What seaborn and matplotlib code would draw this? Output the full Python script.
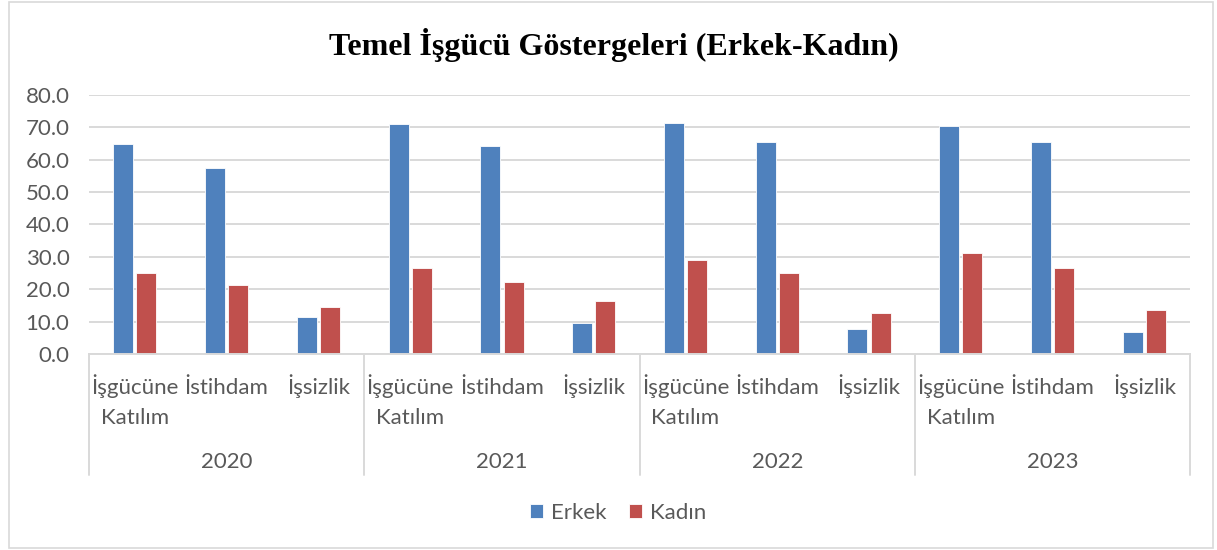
import numpy as np
import pandas as pd
import matplotlib
matplotlib.use("Agg")
import matplotlib.pyplot as plt
import matplotlib.transforms as mtransforms
from matplotlib.patches import Rectangle
import seaborn as sns

# data
years = ['2020', '2021', '2022', '2023']
indicators = ['İşgücüne\nKatılım', 'İstihdam', 'İşsizlik']
erkek = [65.0, 57.3, 11.5, 71.1, 64.1, 9.5, 71.3, 65.6, 7.6, 70.5, 65.5, 6.8]
kadin = [25.1, 21.2, 14.5, 26.5, 22.2, 16.3, 28.9, 25.1, 12.8, 31.1, 26.7, 13.6]
series = ['Erkek', 'Kadın']
colors = ['#4F81BD', '#C0504D']

sns.set_style("white")
plt.rcParams['font.family'] = ['Lato', 'DejaVu Sans']

# long format, one category key per (year, indicator)
keys = [f"{y}|{ind}" for y in years for ind in indicators]
df = pd.DataFrame({
    'key': keys * 2,
    'value': erkek + kadin,
    'cinsiyet': ['Erkek'] * len(keys) + ['Kadın'] * len(keys),
})

fig = plt.figure(figsize=(12.17, 5.5), dpi=100)
ax = fig.add_axes([0.0731, 0.3564, 0.9049, 0.4709])

sns.barplot(data=df, x='key', y='value', hue='cinsiyet', order=keys,
            hue_order=series, palette=colors, saturation=1, width=0.507,
            gap=0.14, edgecolor='white', linewidth=0.6, ax=ax, legend=True)

grid_c = '#D9D9D9'
text_c = '#595959'
fs = 16

ax.set_ylim(0, 80)
ax.set_xlim(-0.5, len(keys) - 0.5)
ax.set_yticks(np.arange(0, 81, 10))
ax.set_yticklabels([f"{v:.1f}" for v in np.arange(0, 81, 10)])
ax.yaxis.grid(True, color=grid_c, linewidth=1.4)
ax.set_axisbelow(True)
for s in ['top', 'right', 'left']:
    ax.spines[s].set_visible(False)
ax.spines['bottom'].set_color(grid_c)
ax.spines['bottom'].set_linewidth(1.4)
ax.tick_params(axis='y', length=0, pad=14, labelsize=fs, labelcolor=text_c)
ax.tick_params(axis='x', length=0, pad=28.5, labelsize=fs, labelcolor=text_c)
ax.set_xticks(range(len(keys)))

trans = mtransforms.blended_transform_factory(ax.transData, ax.transAxes)

# first line as tick label (baseline aligned), wrapped second line as text below
first_lines = []
for i, k in enumerate(keys):
    parts = k.split('|')[1].split('\n')
    first_lines.append(parts[0])
    for j, extra in enumerate(parts[1:], start=1):
        ax.text(i, -0.269 - (j - 1) * 0.116, extra, transform=trans,
                ha='center', va='baseline', fontsize=fs, color=text_c)
ax.set_xticklabels(first_lines, va='baseline')
ax.set_xlabel('')
ax.set_ylabel('')

# year group separators and labels under the axis
n = len(indicators)
for i in range(len(years) + 1):
    xpos = i * n - 0.5
    ax.plot([xpos, xpos], [0, -0.467], transform=trans, color=grid_c,
            linewidth=1.4, clip_on=False)
for i, y in enumerate(years):
    ax.text(i * n + (n - 1) / 2, -0.417, y, transform=trans, ha='center',
            va='center', fontsize=fs, color=text_c)

# legend at bottom of figure
handles, labels = ax.get_legend_handles_labels()
ax.get_legend().remove()
fig.legend(handles, labels, loc='center', bbox_to_anchor=(0.508, 0.067),
           ncol=2, frameon=False, fontsize=fs, handlelength=0.6,
           handleheight=0.6, handletextpad=0.35, columnspacing=1.0,
           labelcolor=text_c)

fig.text(0.504, 1 - 45 / 550, 'Temel İşgücü Göstergeleri (Erkek-Kadın)',
         ha='center', va='center', fontsize=23, fontweight='bold',
         family=['Liberation Serif', 'DejaVu Serif'], color='black')

# outer chart border
fig.patches.append(Rectangle((0.007, 0.004), 0.99, 0.992, transform=fig.transFigure,
                             fill=False, edgecolor=grid_c, linewidth=1.2))

fig.savefig('out.png', dpi=100)
